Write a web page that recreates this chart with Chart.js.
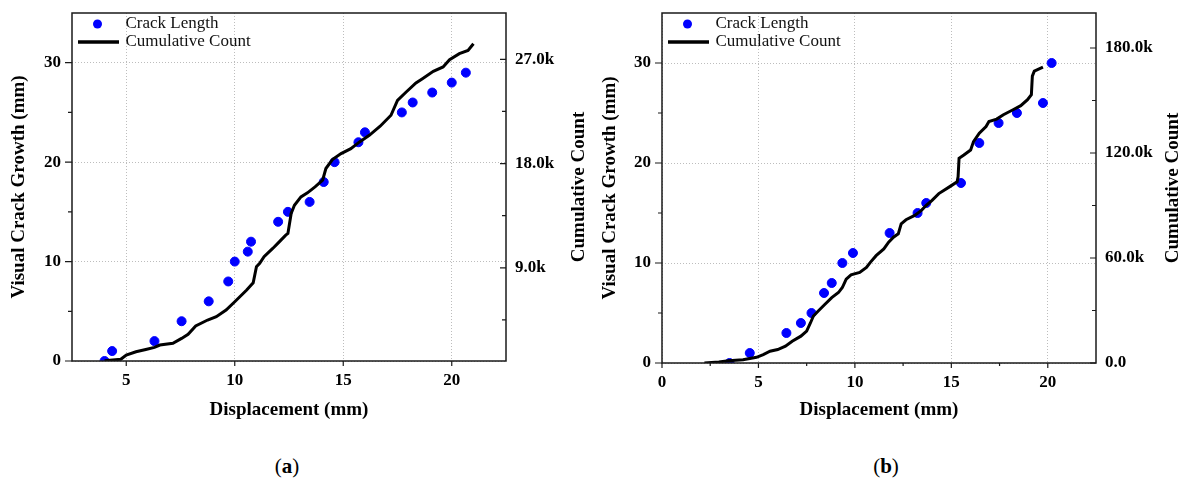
<!DOCTYPE html>
<html lang="en">
<head>
    <meta charset="UTF-8">
    <title>Crack Growth and Cumulative Count</title>
    <script src="https://cdn.jsdelivr.net/npm/chart.js"></script>
    <style>
        body { margin: 0; background: #fff; width: 1191px; height: 487px; position: relative; overflow: hidden; }
        .panel { position: absolute; top: 0; height: 440px; }
        .cap { position: absolute; top: 453px; width: 100px; text-align: center; font-family: "Liberation Serif", serif; font-size: 21px; line-height: 26px; color: #000; }
    </style>
</head>
<body>
    <div class="panel" style="left:0;width:595px"><canvas id="chartA"></canvas></div>
    <div class="panel" style="left:595px;width:596px"><canvas id="chartB"></canvas></div>
    <div class="cap" style="left:237px">(<b>a</b>)</div>
    <div class="cap" style="left:836px">(<b>b</b>)</div>
    <script>
        // panel (a)
        const aCrackX = [4.0, 4.35, 6.3, 7.55, 8.8, 9.7, 10.0, 10.6, 10.75, 12.0, 12.45, 13.45, 14.1, 14.6, 15.7, 16.0, 17.7, 18.2, 19.1, 20.0, 20.65];
        const aCrackY = [0, 1, 2, 4, 6, 8, 10, 11, 12, 14, 15, 16, 18, 20, 22, 23, 25, 26, 27, 28, 29];
        const aCountX = [4.0, 4.75, 5.0, 5.45, 5.9, 6.3, 6.55, 7.15, 7.55, 7.85, 8.2, 8.75, 9.15, 9.6, 10.0, 10.55, 10.85, 11.0, 11.15, 11.35,
                         11.75, 12.05, 12.35, 12.45, 12.6, 12.75, 13.05, 13.35, 13.7, 14.05, 14.2, 14.5, 14.9, 15.35, 15.75, 16.2, 16.7, 17.2, 17.5, 17.9,
                         18.35, 18.65, 19.15, 19.6, 19.9, 20.35, 20.75, 21.0];
        const aCountY = [980, 1100, 1470, 1750, 1950, 2130, 2330, 2480, 2900, 3250, 3970, 4490, 4780, 5350, 6070, 7080, 7710, 9090, 9380, 9950,
                         10670, 11240, 11820, 11960, 13690, 14400, 15120, 15470, 15990, 16560, 17570, 18340, 18860, 19290, 19870, 20440, 21220, 22170, 23460, 24180,
                         24960, 25330, 25960, 26340, 26970, 27490, 27770, 28350];

        // panel (b)
        const bCrackX = [3.5, 4.55, 6.45, 7.2, 7.75, 8.4, 8.8, 9.35, 9.9, 11.8, 13.25, 13.7, 15.5, 16.45, 17.45, 18.4, 19.75, 20.2];
        const bCrackY = [0, 1, 3, 4, 5, 7, 8, 10, 11, 13, 15, 16, 18, 22, 24, 25, 26, 30];
        const bCountX = [2.2, 2.95, 3.45, 4.2, 4.9, 5.25, 5.6, 6.0, 6.4, 6.75, 7.2, 7.5, 7.7, 7.85, 8.1, 8.45, 8.8, 9.15, 9.35, 9.55,
                         9.8, 10.25, 10.6, 10.8, 11.1, 11.5, 11.75, 12.0, 12.25, 12.4, 12.65, 13.1, 13.45, 13.7, 14.0, 14.35, 14.9, 15.3, 15.35, 15.4,
                         15.65, 16.0, 16.15, 16.45, 16.8, 16.95, 17.35, 17.7, 18.2, 18.6, 18.95, 19.15, 19.2, 19.3, 19.75];
        const bCountY = [0, 580, 1340, 1920, 3260, 4790, 6710, 7670, 9590, 12460, 15340, 18210, 23000, 26840, 29710, 33550, 37380, 40260, 43130, 47930,
                         50420, 51760, 54630, 57510, 61340, 65180, 69010, 71890, 73800, 79550, 81850, 84350, 87220, 90100, 92970, 96810, 100640, 103520, 106400, 116940,
                         118850, 121730, 126520, 131320, 135150, 138020, 139370, 141860, 144740, 147030, 150480, 153360, 163900, 166780, 169080];

        // tick values
        const aXMajor = [5, 10, 15, 20];
        const aXMinor = [];
        const bXMajor = [0, 5, 10, 15, 20];
        const bXMinor = [2.5, 7.5, 12.5, 17.5];
        const leftMajor = [0, 10, 20, 30];
        const leftMinor = [5, 15, 25];
        const aRightMajor = [9000, 18000, 27000];
        const aRightMinor = [4500, 13500, 22500];
        const bRightMajor = [0, 60000, 120000, 180000];
        const bRightMinor = [30000, 90000, 150000];

        const legendLabels = ['Crack Length', 'Cumulative Count'];
        const xTitle = 'Displacement (mm)';
        const leftTitle = 'Visual Crack Growth (mm)';
        const rightTitle = 'Cumulative Count';

        const tickFont = { family: 'Liberation Serif', weight: 'bold', size: 17 };
        const titleFont = { family: 'Liberation Serif', weight: 'bold', size: 19 };

        const fmtCount = v => v === 0 ? '0.0' : (v / 1000).toFixed(1) + 'k';

        // box around the plot, tick marks, right title (reads upwards) and the small legend
        const framePlugin = {
            id: 'frame',
            afterDatasetsDraw(chart) {
                const ctx = chart.ctx;
                const a = chart.chartArea;
                const s = chart.scales;
                const t = chart.options.plugins.frame;
                ctx.save();
                ctx.strokeStyle = '#1a1a1a';
                ctx.lineWidth = 1.5;
                ctx.strokeRect(a.left, a.top, a.right - a.left, a.bottom - a.top);
                ctx.lineWidth = 1.2;
                ctx.beginPath();
                const mark = (list, len, fn) => list.forEach(v => fn(v, len));
                mark(t.xMajor, 5, (v, l) => { const p = s.x.getPixelForValue(v); ctx.moveTo(p, a.bottom); ctx.lineTo(p, a.bottom + l); });
                mark(t.xMinor, 3, (v, l) => { const p = s.x.getPixelForValue(v); ctx.moveTo(p, a.bottom); ctx.lineTo(p, a.bottom + l); });
                mark(leftMajor, 7, (v, l) => { const p = s.y.getPixelForValue(v); ctx.moveTo(a.left - l, p); ctx.lineTo(a.left, p); });
                mark(leftMinor, 4, (v, l) => { const p = s.y.getPixelForValue(v); ctx.moveTo(a.left - l, p); ctx.lineTo(a.left, p); });
                mark(t.rMajor, 6, (v, l) => { const p = s.y1.getPixelForValue(v); ctx.moveTo(a.right - l, p); ctx.lineTo(a.right, p); });
                mark(t.rMinor, 4, (v, l) => { const p = s.y1.getPixelForValue(v); ctx.moveTo(a.right - l, p); ctx.lineTo(a.right, p); });
                ctx.stroke();

                // right axis title
                ctx.save();
                ctx.translate(chart.width - t.rightOffset, (a.top + a.bottom) / 2);
                ctx.rotate(-Math.PI / 2);
                ctx.fillStyle = '#000';
                ctx.font = 'bold 19px "Liberation Serif"';
                ctx.textAlign = 'center';
                ctx.textBaseline = 'middle';
                ctx.fillText(rightTitle, 0, 0);
                ctx.restore();

                // legend
                ctx.fillStyle = '#0000ff';
                ctx.beginPath();
                ctx.arc(a.left + 25.5, a.top + 11, 4.5, 0, Math.PI * 2);
                ctx.fill();
                ctx.strokeStyle = '#000';
                ctx.lineWidth = 3.5;
                ctx.beginPath();
                ctx.moveTo(a.left + 6, a.top + 29);
                ctx.lineTo(a.left + 47, a.top + 29);
                ctx.stroke();
                ctx.fillStyle = '#111';
                ctx.font = '17px "Liberation Serif"';
                ctx.textBaseline = 'middle';
                ctx.fillText(legendLabels[0], a.left + 53.5, a.top + 11);
                ctx.fillText(legendLabels[1], a.left + 53.5, a.top + 29);
                ctx.restore();
            }
        };

        function makeChart(id, cfg) {
            const ctx = document.getElementById(id).getContext('2d');
            const xTicks = cfg.xMajor.concat(cfg.xMinor).sort((p, q) => p - q);
            const yTicks = leftMajor.concat(leftMinor).sort((p, q) => p - q);
            const rTicks = cfg.rMajor.concat(cfg.rMinor).sort((p, q) => p - q);
            const gridColor = major => c => major.includes(c.tick.value) ? '#bdbdbd' : 'rgba(0,0,0,0)';
            const noPad = axis => { axis.paddingTop = 0; axis.paddingBottom = 0; axis.paddingLeft = 0; axis.paddingRight = 0; };

            return new Chart(ctx, {
                type: 'scatter',
                data: {
                    datasets: [
                        {
                            type: 'line',
                            label: legendLabels[1],
                            data: cfg.countX.map((x, i) => ({ x: x, y: cfg.countY[i] })),
                            yAxisID: 'y1',
                            borderColor: '#000',
                            borderWidth: 3,
                            pointRadius: 0,
                            tension: 0,
                            fill: false,
                            order: 0
                        },
                        {
                            label: legendLabels[0],
                            data: cfg.crackX.map((x, i) => ({ x: x, y: cfg.crackY[i] })),
                            yAxisID: 'y',
                            backgroundColor: '#0000ff',
                            borderColor: '#0000ff',
                            pointRadius: 4.5,
                            order: 1
                        }
                    ]
                },
                options: {
                    responsive: true,
                    maintainAspectRatio: false,
                    animation: false,
                    layout: { padding: { top: 13, left: 0, right: 0, bottom: 0 } },
                    scales: {
                        x: {
                            type: 'linear',
                            min: cfg.xMin,
                            max: 22.5,
                            afterBuildTicks: axis => { axis.ticks = xTicks.map(v => ({ value: v })); },
                            afterFit: axis => { axis.height = cfg.xHeight; noPad(axis); },
                            grid: { drawTicks: false, color: gridColor(cfg.xMajor), lineWidth: 1 },
                            border: { display: false, dash: [1, 2] },
                            ticks: {
                                padding: 9,
                                color: '#000',
                                font: tickFont,
                                maxRotation: 0,
                                callback: v => cfg.xMajor.includes(v) ? String(v) : ''
                            },
                            title: { display: true, text: xTitle, color: '#000', font: titleFont, padding: { top: 0, bottom: 19 } }
                        },
                        y: {
                            type: 'linear',
                            position: 'left',
                            min: 0,
                            max: 35,
                            afterBuildTicks: axis => { axis.ticks = yTicks.map(v => ({ value: v })); },
                            afterFit: axis => { axis.width = cfg.leftWidth; noPad(axis); },
                            grid: { drawTicks: false, color: gridColor(leftMajor), lineWidth: 1 },
                            border: { display: false, dash: [1, 2] },
                            ticks: {
                                padding: 11,
                                color: '#000',
                                font: tickFont,
                                callback: v => leftMajor.includes(v) ? String(v) : ''
                            },
                            title: { display: true, text: leftTitle, color: '#000', font: titleFont, padding: { top: cfg.leftPad, bottom: 0 } }
                        },
                        y1: {
                            type: 'linear',
                            position: 'right',
                            min: cfg.rMin,
                            max: cfg.rMax,
                            afterBuildTicks: axis => { axis.ticks = rTicks.map(v => ({ value: v })); },
                            afterFit: axis => { axis.width = cfg.rightWidth; noPad(axis); },
                            grid: { drawTicks: false, drawOnChartArea: false },
                            border: { display: false },
                            ticks: {
                                padding: 9,
                                color: '#000',
                                font: tickFont,
                                callback: v => cfg.rMajor.includes(v) ? fmtCount(v) : ''
                            },
                            title: { display: false }
                        }
                    },
                    plugins: {
                        legend: { display: false },
                        tooltip: { enabled: false },
                        frame: { xMajor: cfg.xMajor, xMinor: cfg.xMinor, rMajor: cfg.rMajor, rMinor: cfg.rMinor, rightOffset: cfg.rightOffset }
                    }
                },
                plugins: [framePlugin]
            });
        }

        makeChart('chartA', {
            crackX: aCrackX, crackY: aCrackY, countX: aCountX, countY: aCountY,
            xMin: 2.5, xMajor: aXMajor, xMinor: aXMinor,
            rMin: 950, rMax: 31000, rMajor: aRightMajor, rMinor: aRightMinor,
            leftWidth: 72, rightWidth: 89, xHeight: 79, leftPad: 8, rightOffset: 16
        });

        makeChart('chartB', {
            crackX: bCrackX, crackY: bCrackY, countX: bCountX, countY: bCountY,
            xMin: 0, xMajor: bXMajor, xMinor: bXMinor,
            rMin: 0, rMax: 200000, rMajor: bRightMajor, rMinor: bRightMinor,
            leftWidth: 67, rightWidth: 95, xHeight: 77, leftPad: 4, rightOffset: 18
        });
    </script>
</body>
</html>
